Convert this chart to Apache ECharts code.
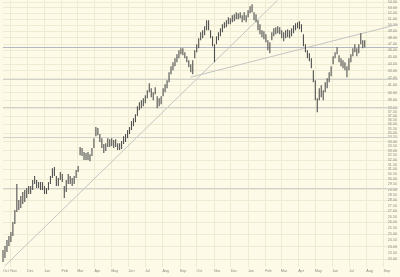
<!DOCTYPE html>
<html><head><meta charset="utf-8">
<script src="https://cdn.jsdelivr.net/npm/echarts@6/dist/echarts.min.js"></script>
<style>html,body{margin:0;padding:0;background:#FDFBE8}#c{width:400px;height:277px}</style>
</head><body><div id="c"></div>
<script>
// x positions: one bar sample every stepDays starting at startDate
const startDate = '2004-10-19';
const endDate = '2006-09-27';
const stepDays = 3.543;
const highs = [
23.73,24.05,24.53,24.86,25.19,26.04,27.09,29.53,28.00,28.38,
28.76,28.95,29.14,29.33,29.33,29.92,30.32,29.92,29.72,29.72,
29.72,29.33,29.14,29.72,30.32,31.13,31.24,30.32,30.12,30.73,
30.52,29.33,29.92,30.52,30.32,30.12,30.32,30.93,31.34,33.38,
33.27,32.83,32.72,32.83,32.61,33.27,34.38,35.67,35.55,34.85,
34.38,33.71,33.82,34.38,34.27,34.38,34.16,34.27,33.82,33.82,
34.05,34.61,34.85,35.31,35.67,36.38,36.74,37.23,38.23,38.73,
38.99,39.25,39.65,40.31,41.25,40.58,40.05,40.71,39.52,39.25,
39.52,40.58,41.12,41.67,42.79,43.65,44.23,44.82,45.41,46.02,
46.32,46.32,45.72,45.11,44.52,43.94,44.52,46.02,46.94,47.89,
48.85,49.17,49.83,50.82,50.82,49.17,48.20,46.94,48.20,48.85,
49.50,50.16,50.49,50.82,51.33,51.16,51.67,51.84,52.19,52.01,
52.19,51.67,52.19,51.67,52.53,53.23,53.59,52.19,51.84,50.82,
50.16,49.17,49.01,48.52,47.57,47.25,48.85,49.50,49.66,49.83,
49.66,49.17,48.85,49.17,49.33,49.17,49.50,49.99,50.32,50.49,
50.65,50.16,48.52,46.94,46.02,45.56,44.82,43.07,41.67,39.25,
40.58,40.98,40.31,41.39,41.95,42.79,43.65,45.11,45.72,46.48,
45.26,44.82,44.52,44.23,43.65,44.82,45.41,46.32,46.94,46.32,
46.94,48.68,47.57,47.57];
const lows = [
22.81,23.11,23.57,24.05,24.37,24.86,25.87,26.91,27.09,27.27,
27.63,27.82,28.19,28.57,28.57,28.95,29.53,29.14,29.14,28.95,
28.95,28.57,28.57,28.95,29.53,30.12,30.32,29.33,29.33,29.92,
29.72,28.19,28.76,29.53,29.53,29.33,29.53,30.12,30.73,32.50,
32.40,31.97,31.97,31.97,31.86,32.40,33.27,34.61,34.73,33.94,
33.27,32.72,32.94,33.38,33.38,33.49,33.27,33.38,33.05,33.05,
33.16,33.71,33.94,34.38,34.85,35.31,35.78,36.26,36.99,37.73,
37.98,38.23,38.60,39.25,40.05,39.39,38.99,39.78,37.98,38.23,
38.48,39.52,40.05,40.58,41.39,42.50,43.07,43.65,44.23,44.82,
45.41,45.26,44.82,44.23,43.50,42.79,42.50,44.82,45.72,46.32,
47.57,47.89,48.36,49.17,49.17,47.89,46.63,44.23,46.94,47.57,
48.20,48.85,49.50,49.66,50.16,50.16,50.49,50.65,50.99,50.99,
51.16,50.49,50.82,50.49,51.33,52.01,52.19,50.82,50.49,49.17,
48.52,48.04,47.73,47.25,46.02,45.56,47.57,48.20,48.52,48.68,
48.52,47.89,47.41,47.89,48.04,47.89,48.20,48.68,49.17,49.50,
49.33,48.85,46.63,45.72,44.82,44.37,43.36,41.39,38.99,37.48,
38.99,39.39,38.99,40.05,40.58,41.39,42.22,43.94,44.82,45.41,
44.23,43.65,43.36,43.07,42.08,43.07,44.23,45.11,45.72,45.11,
45.56,46.94,46.32,46.48];
const monthNames = ['Jan','Feb','Mar','Apr','May','Jun','Jul','Aug','Sep','Oct','Nov','Dec'];
const monthTicks = ['2004-11-01','2004-12-01','2005-01-01','2005-02-01','2005-03-01','2005-04-01',
  '2005-05-01','2005-06-01','2005-07-01','2005-08-01','2005-09-01','2005-10-01','2005-11-01',
  '2005-12-01','2006-01-01','2006-02-01','2006-03-01','2006-04-01','2006-05-01','2006-06-01',
  '2006-07-01','2006-08-01','2006-09-01'];
const monthLabels = ['2004-10-19'].concat(monthTicks);
const priceLabels = [23.00,23.50,24.00,24.50,25.00,25.50,26.00,26.50,27.00,27.50,28.00,28.50,
  29.00,29.50,30.00,30.50,31.00,31.50,32.00,32.50,33.00,33.50,34.00,34.50,35.00,35.50,36.00,
  36.50,37.00,37.50,38.00,39.00,40.00,41.00,42.00,43.00,44.00,45.00,46.00,47.00,48.00,49.00,
  50.00,51.00,52.00,53.00,54.00];
const gridPrices = [23,24,25,26,27,28,29,30,31,32,33,34,35,36,37,38,39,40,41,42,43,44,45,46,
  47,48,49,50,51,52,53,54];
const levelTop = [46.48];
const levelLines = [41.81, 38.10, 34.50, 29.14];
const trend1 = [['2004-10-22', 22.50], ['2006-02-23', 54.30]];
const trend2 = [['2005-09-20', 42.08], ['2006-09-27', 50.15]];
const yMin = 22.43, yMax = 54.30;

function ts(s) { const p = s.split('-').map(Number); return new Date(p[0], p[1] - 1, p[2]).getTime(); }
const t0 = ts(startDate), t1 = ts(endDate);
const bars = highs.map((h, i) => [t0 + Math.round(i * stepDays * 86400000), lows[i], h]);

const chart = echarts.init(document.getElementById('c'), null, {renderer: 'canvas'});
const gridColor = '#EEEBD3';
const lblFont = {fontFamily: 'Liberation Sans', fontSize: 3.7, color: '#8c8b80'};
chart.setOption({
  animation: false,
  backgroundColor: '#FDFBE8',
  grid: {left: 0, right: 0, top: 0, bottom: 10, containLabel: false},
  xAxis: {
    type: 'value', min: t0, max: t1, scale: true,
    axisLine: {show: false},
    axisTick: {show: false, customValues: monthTicks.map(ts)},
    splitLine: {show: true, lineStyle: {color: gridColor, width: 1}},
    axisLabel: Object.assign({
      customValues: monthLabels.map(ts), margin: 2, align: 'left',
      formatter: v => monthNames[new Date(v).getMonth()]
    }, lblFont)
  },
  yAxis: {
    type: 'log', logBase: 10, min: yMin, max: yMax, position: 'right',
    axisLine: {show: false},
    axisTick: {show: false, customValues: gridPrices},
    splitLine: {show: true, lineStyle: {color: gridColor, width: 1}},
    axisLabel: Object.assign({
      customValues: priceLabels, inside: true, margin: 1,
      formatter: v => Number(v).toFixed(2)
    }, lblFont)
  },
  series: [
    {
      type: 'line', data: trend1.map(d => [ts(d[0]), d[1]]), symbol: 'none', silent: true, z: 3,
      lineStyle: {color: '#c4c4c2', width: 1},
      markLine: {
        silent: true, symbol: 'none', label: {show: false},
        lineStyle: {color: '#d0d0cc', width: 1, type: 'solid'},
        data: levelLines.map(v => ({yAxis: v}))
      }
    },
    {
      type: 'line', data: trend2.map(d => [ts(d[0]), d[1]]), symbol: 'none', silent: true, z: 3,
      lineStyle: {color: '#c4c4c2', width: 1},
      markLine: {
        silent: true, symbol: 'none', label: {show: false},
        lineStyle: {color: '#b4b8c2', width: 1, type: 'solid'},
        data: levelTop.map(v => ({yAxis: v}))
      }
    },
    {
      type: 'custom', data: bars, z: 5, silent: true,
      encode: {x: 0, y: [1, 2]},
      renderItem: function (params, api) {
        const t = api.value(0);
        const lo = api.coord([t, api.value(1)]);
        const hi = api.coord([t, api.value(2)]);
        return {type: 'line', shape: {x1: lo[0], y1: lo[1], x2: hi[0], y2: hi[1]},
          style: {stroke: '#505050', lineWidth: 1.1}};
      }
    }
  ]
});
</script></body></html>
